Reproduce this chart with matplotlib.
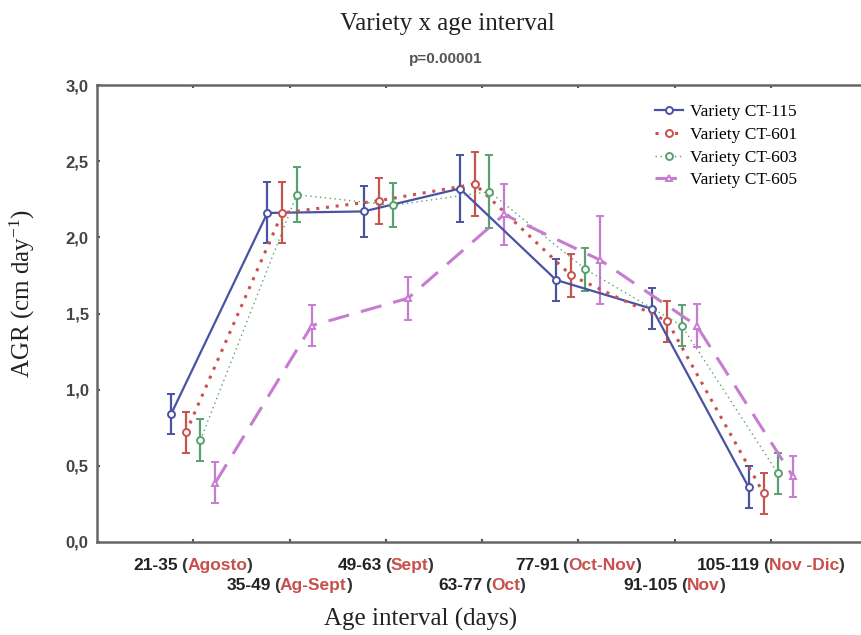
import matplotlib
matplotlib.use("Agg")
import matplotlib.pyplot as plt
from matplotlib.lines import Line2D
from matplotlib.transforms import IdentityTransform
from matplotlib.ticker import FuncFormatter

plt.rcParams["mathtext.fontset"] = "custom"
plt.rcParams["mathtext.rm"] = "Liberation Serif"
plt.rcParams["mathtext.it"] = "Liberation Serif:italic"

# --- data ---
age_ranges = ["21-35", "35-49", "49-63", "63-77", "77-91", "91-105", "105-119"]
months = ["Agosto", "Ag-Sept", "Sept", "Oct", "Oct-Nov", "Nov", "Nov -Dic"]
varieties = ["Variety CT-115", "Variety CT-601", "Variety CT-603", "Variety CT-605"]

agr_ct115 = [0.84, 2.16, 2.17, 2.32, 1.72, 1.53, 0.36]
err_ct115 = [0.13, 0.20, 0.165, 0.22, 0.14, 0.135, 0.14]
agr_ct601 = [0.72, 2.16, 2.24, 2.35, 1.75, 1.45, 0.32]
err_ct601 = [0.135, 0.20, 0.15, 0.21, 0.14, 0.135, 0.135]
agr_ct603 = [0.67, 2.28, 2.21, 2.30, 1.79, 1.42, 0.45]
err_ct603 = [0.14, 0.18, 0.145, 0.24, 0.14, 0.135, 0.135]
agr_ct605 = [0.39, 1.42, 1.60, 2.15, 1.85, 1.42, 0.43]
err_ct605 = [0.135, 0.135, 0.14, 0.20, 0.29, 0.14, 0.135]

series = [
    (agr_ct115, err_ct115, "#4a52a3", "-", 1.6, "o"),
    (agr_ct601, err_ct601, "#c8524e", (0, (1, 2.2)), 2.2, "o"),
    (agr_ct603, err_ct603, "#5aa070", (0, (1, 2.5)), 1.0, "o"),
    (agr_ct605, err_ct605, "#c67dd0", (0, (7, 4)), 2.2, "^"),
]
offsets = [-0.23, -0.075, 0.075, 0.23]

W, H = 861, 635
fig = plt.figure(figsize=(W / 100, H / 100), dpi=100)
ax = fig.add_axes([97 / W, 93 / H, 770 / W, 457 / H])

x = list(range(1, len(age_ranges) + 1))
handles = []
for (vals, errs, col, ls, lw, mk), off, name in zip(series, offsets, varieties):
    xs = [xi + off for xi in x]
    ax.errorbar(xs, vals, yerr=errs, color=col, ls=ls, lw=lw, marker=mk,
                ms=5, mfc="white", mec=col, mew=1.4, elinewidth=1.6,
                capsize=3, capthick=1.6)
    handles.append(Line2D([], [], color=col, ls=ls, lw=lw, marker=mk, ms=5,
                          mfc="white", mec=col, mew=1.4, label=name))

ax.set_xlim(0, 8)
ax.set_ylim(0, 3)
ax.set_xticks(x)
ax.set_xticklabels([])
ax.set_yticks([0, 0.5, 1.0, 1.5, 2.0, 2.5, 3.0])
ax.yaxis.set_major_formatter(FuncFormatter(lambda v, p: f"{v:.1f}".replace(".", ",")))
ax.tick_params(direction="in", length=2.5, width=1.5, color="#555555",
               top=True, right=False)
ax.tick_params(axis="y", pad=6, labelsize=12, labelcolor="#444444")
for lab in ax.get_yticklabels():
    lab.set_fontfamily("Liberation Sans")
    lab.set_fontweight("bold")
for side in ["left", "bottom", "top"]:
    ax.spines[side].set_color("#666666")
    ax.spines[side].set_linewidth(1.8)
ax.spines["right"].set_visible(False)

ax.legend(handles=handles, loc="upper left", bbox_to_anchor=(655 / W, 1 - 104 / H),
          bbox_transform=fig.transFigure, frameon=False, borderpad=0,
          borderaxespad=0, handlelength=1.6, handletextpad=0.4,
          labelspacing=0.38, prop={"family": "Liberation Serif", "size": 12.5})

# titles and axis labels
fig.text(447 / W, 1 - 30 / H, "Variety x age interval", ha="center", va="baseline",
         family="Liberation Serif", fontsize=18, color="#222222")
fig.text(446 / W, 1 - 63 / H, "p=0.00001", ha="center", va="baseline",
         family="Liberation Sans", fontweight="bold", fontsize=11, color="#555555")
fig.text(421 / W, 1 - 626 / H, "Age interval (days)", ha="center", va="baseline",
         family="Liberation Serif", fontsize=18, color="#222222")
fig.text(22 / W, 1 - 294 / H, r"AGR (cm day$^{-1}$)", ha="center", va="center",
         rotation=90, family="Liberation Serif", fontsize=18, color="#222222")

# two-row, two-colour x tick labels
fig.canvas.draw()
renderer = fig.canvas.get_renderer()
ident = IdentityTransform()
row_y = [H - 570, H - 590]
space_px = 3
for i, (rng, mon) in enumerate(zip(age_ranges, months)):
    xt = ax.transData.transform((x[i], 0))[0]
    yb = row_y[i % 2]
    pieces = [(rng, "#222222", space_px), ("(", "#333333", 0),
              (mon, "#c8504c", 0), (")", "#333333", 0)]
    texts, widths = [], []
    for s, c, gap in pieces:
        t = fig.text(0, yb, s, transform=ident, va="baseline", ha="left",
                     family="Liberation Sans", fontweight="bold", fontsize=12.5, color=c)
        texts.append(t)
        widths.append(t.get_window_extent(renderer).width + gap)
    cur = xt - sum(widths) / 2
    for t, w in zip(texts, widths):
        t.set_position((cur, yb))
        cur += w

fig.savefig("out.png", dpi=100)
